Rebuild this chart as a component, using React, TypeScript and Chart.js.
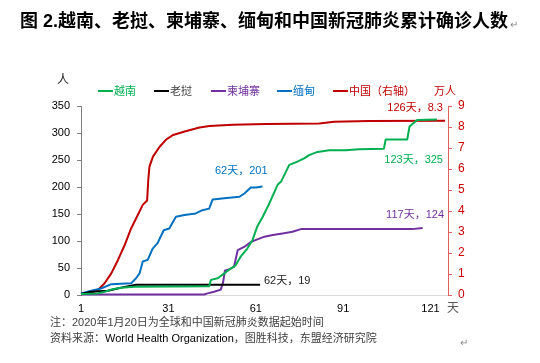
import React, { useEffect, useRef } from "react";
import { Chart, registerables } from "chart.js";

Chart.register(...registerables);

const FONT = '"Liberation Sans", "Noto Sans CJK SC", Arial, sans-serif';
const CJK = '"Liberation Sans", "Noto Sans CJK SC", sans-serif';

const titleText = "图 2.越南、老挝、柬埔寨、缅甸和中国新冠肺炎累计确诊人数";
const seriesNames = ["越南", "老挝", "柬埔寨", "缅甸", "中国（右轴）"];
const seriesColors = ["#00b050", "#000000", "#7030a0", "#0070c0", "#c00000"];
const legendTextColors = ["#00b050", "#404040", "#7030a0", "#0070c0", "#c00000"];
const xTicks = [1, 31, 61, 91, 121];
const leftTickStep = 50;
const rightTickStep = 1;

// Vietnam (people), day since first case
const vietnamDays = [1, 6.8, 9.1, 11.4, 14.8, 19.4, 45.0, 45.6, 47.9, 50.2, 52.4, 54.1, 55.8, 58.1, 59.9, 61.6, 63.4, 65.7, 68.5, 69.7, 72.5, 75.3, 77.6, 79.3, 82.2, 86.2, 91.9, 96.4, 105.0, 105.6, 113.0, 113.8, 115.3, 116.4, 123.2];
const vietnamCases = [2, 3, 6, 10, 13.5, 15.5, 16, 28, 31, 40, 49, 55, 71, 86, 102, 128, 145, 170, 204, 210, 241, 247, 253, 259, 265, 268, 268, 270, 271, 288, 288, 312, 319, 324, 325];

// Laos
const laosDays = [1, 4.5, 10.2, 12.5, 16.0, 19.9, 62.5];
const laosCases = [2, 6, 8, 10.5, 15, 19, 19];

// Cambodia
const cambodiaDays = [1, 43.3, 44.4, 46.7, 49.0, 49.8, 50.4, 52.0, 53.5, 54.8, 57.0, 59.3, 61.1, 64.0, 66.8, 70.2, 73.6, 76.5, 114.7, 118.3];
const cambodiaCases = [1, 1, 3, 6, 10, 24, 45, 48, 52, 83, 89, 98, 102, 108, 111, 114, 117, 122, 122, 124];

// Myanmar
const myanmarDays = [1, 4.5, 7.9, 11.4, 18.2, 19.9, 21.1, 22.2, 23.9, 25.6, 27.3, 29.4, 31.3, 33.6, 36.5, 40.4, 42.7, 45.0, 46.2, 50.2, 55.4, 57.1, 59.3, 61.1, 63.3];
const myanmarCases = [3, 8, 12, 20, 21.6, 31, 40, 62, 65, 86, 96, 120, 123, 145, 148, 151, 157, 160, 177, 179, 182, 188, 199, 199, 201];

// China (10k people, right axis)
const chinaDays = [1, 4.1, 6.8, 9.1, 11.4, 13.7, 16.0, 18.2, 20.5, 22.2, 23.7, 24.1, 24.5, 25.7, 28.0, 30.3, 32.6, 37.2, 41.7, 45.1, 53.1, 64.5, 82.8, 87.9, 99.9, 126];
const chinaCases = [0.03, 0.08, 0.24, 0.56, 1.03, 1.67, 2.38, 3.17, 3.81, 4.29, 4.5, 5.5, 6.11, 6.59, 7.06, 7.41, 7.62, 7.81, 7.98, 8.05, 8.11, 8.14, 8.17, 8.25, 8.29, 8.3];

const annotations = [
  { text: "126天，8.3", color: "#c00000", right: 97, cy: 107 },
  { text: "123天，325", color: "#00b050", right: 97, cy: 159 },
  { text: "117天，124", color: "#7030a0", right: 96, cy: 214 },
  { text: "62天，201", color: "#0070c0", left: 215, cy: 170 },
  { text: "62天，19", color: "#222222", left: 264, cy: 280 },
];

const legendPos = [98, 154, 211, 277, 333];

const toPoints = (days: number[], vals: number[]) => days.map((d, i) => ({ x: d, y: vals[i] }));

function Txt(props: { children: any; left?: number; right?: number; cy: number; size?: number; color?: string; bold?: boolean; family?: string }) {
  const size = props.size ?? 11;
  const lh = Math.round(size * 1.3);
  const style: any = {
    position: "absolute",
    top: props.cy - lh / 2,
    fontSize: size,
    lineHeight: lh + "px",
    color: props.color ?? "#000",
    fontFamily: props.family ?? CJK,
    fontWeight: props.bold ? "bold" : "normal",
    whiteSpace: "nowrap",
  };
  if (props.left !== undefined) style.left = props.left;
  if (props.right !== undefined) style.right = props.right;
  return <span style={style}>{props.children}</span>;
}

export default function App() {
  const ref = useRef<HTMLCanvasElement>(null);
  useEffect(() => {
    if (!ref.current) return;
    const seriesData = [
      toPoints(vietnamDays, vietnamCases),
      toPoints(laosDays, laosCases),
      toPoints(cambodiaDays, cambodiaCases),
      toPoints(myanmarDays, myanmarCases),
      toPoints(chinaDays, chinaCases),
    ];
    const chart = new Chart(ref.current, {
      type: "line",
      data: {
        datasets: seriesData.map((d, i) => ({
          label: seriesNames[i],
          data: d,
          borderColor: seriesColors[i],
          backgroundColor: seriesColors[i],
          borderWidth: 2,
          pointRadius: 0,
          tension: 0,
          borderJoinStyle: "round" as const,
          yAxisID: i === 4 ? "y1" : "y",
          clip: 4,
        })),
      },
      options: {
        animation: false,
        responsive: false,
        layout: { padding: { top: 106, left: 0, right: 0, bottom: 0 } },
        plugins: { legend: { display: false }, tooltip: { enabled: false }, title: { display: false } },
        scales: {
          x: {
            type: "linear",
            min: 1,
            max: 127,
            afterBuildTicks: (s: any) => {
              s.ticks = xTicks.map((v) => ({ value: v }));
            },
            afterFit: (s: any) => {
              s.height = 68;
            },
            ticks: { font: { family: FONT, size: 11 }, color: "#000", padding: 7, maxRotation: 0, autoSkip: false },
            grid: { drawOnChartArea: false, drawTicks: false },
            border: { color: "#d9d9d9", width: 1 },
          },
          y: {
            position: "left",
            min: 0,
            max: 350,
            afterFit: (s: any) => {
              s.width = 81;
            },
            ticks: { stepSize: leftTickStep, font: { family: FONT, size: 11 }, color: "#000", padding: 7 },
            grid: { drawOnChartArea: false, tickLength: 4, color: "#808080" },
            border: { color: "#808080", width: 1 },
          },
          y1: {
            position: "right",
            min: 0,
            max: 9,
            afterFit: (s: any) => {
              s.width = 92;
            },
            ticks: { stepSize: rightTickStep, font: { family: FONT, size: 12 }, color: "#d00000", padding: 6 },
            grid: { drawOnChartArea: false, tickLength: 4, color: "#e06060" },
            border: { color: "#e06060", width: 1 },
          },
        },
      },
    });
    return () => chart.destroy();
  }, []);

  return (
    <div style={{ position: "absolute", left: 0, top: 0, width: 540, height: 363, background: "#fff", overflow: "hidden" }}>
      <canvas ref={ref} width={540} height={363} style={{ position: "absolute", left: 0, top: 0, width: 540, height: 363 }} />
      <Txt left={20} cy={21} size={18} bold color="#000" family={'"Liberation Sans", "Noto Sans CJK SC", sans-serif'}>
        {titleText}
      </Txt>
      <Txt left={510} cy={24} size={10} color="#888">↵</Txt>
      <Txt left={57} cy={80} size={12} color="#222">人</Txt>
      {seriesNames.map((n, i) => (
        <React.Fragment key={n}>
          <div style={{ position: "absolute", left: legendPos[i], top: 90, width: 15, height: 2, background: seriesColors[i] }} />
          <Txt left={legendPos[i] + 16} cy={91} size={11} color={legendTextColors[i]}>{n}</Txt>
        </React.Fragment>
      ))}
      <Txt left={434} cy={91} size={11} color="#c00000">万人</Txt>
      {annotations.map((a) => (
        <Txt key={a.text} left={a.left} right={a.right} cy={a.cy} size={11} color={a.color}>{a.text}</Txt>
      ))}
      <Txt left={447} cy={308} size={12} color="#595959">天</Txt>
      <Txt left={50} cy={322} size={11} color="#404040">注：2020年1月20日为全球和中国新冠肺炎数据起始时间</Txt>
      <Txt left={50} cy={338} size={11} color="#404040">
        资料来源：<span style={{ color: "#000" }}>World Health Organization</span>，图胜科技，东盟经济研究院
      </Txt>
      <Txt left={460} cy={342} size={10} color="#888">↵</Txt>
    </div>
  );
}
